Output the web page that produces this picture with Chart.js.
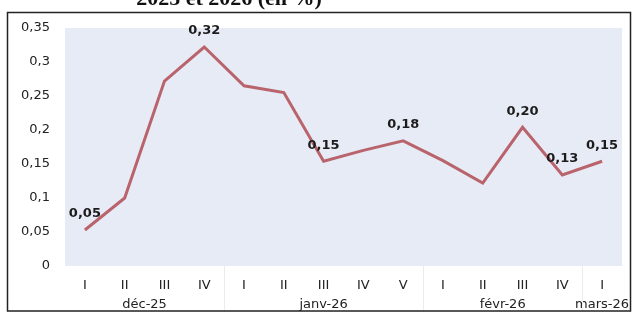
<!DOCTYPE html>
<html lang="fr">
<head>
    <meta charset="UTF-8">
    <title>Évolution hebdomadaire</title>
    <script src="https://cdn.jsdelivr.net/npm/chart.js"></script>
    <style>
        html, body {
            margin: 0;
            padding: 0;
            background: #ffffff;
        }
        #graphique {
            display: block;
        }
    </style>
</head>
<body>
    <canvas id="graphique" width="636" height="312"></canvas>

    <script>
        // Données
        const titre = '2025 et 2026 (en %)';
        const periodes = ['I', 'II', 'III', 'IV', 'I', 'II', 'III', 'IV', 'V', 'I', 'II', 'III', 'IV', 'I'];
        const mois = ['déc-25', 'janv-26', 'févr-26', 'mars-26'];
        const semainesParMois = [4, 5, 4, 1];
        const valeurs = [0.053, 0.10, 0.272, 0.322, 0.265, 0.255, 0.154, 0.170, 0.184, 0.155, 0.122, 0.204, 0.134, 0.154];
        const pointsEtiquetes = [0, 3, 6, 8, 11, 12, 13];
        const yTicks = [0, 0.05, 0.1, 0.15, 0.2, 0.25, 0.3, 0.35];

        function virgule(v, dec) {
            const s = dec === undefined ? String(+v.toFixed(2)) : v.toFixed(dec);
            return s.replace('.', ',');
        }

        // Fond de la zone de tracé, libellés, mois, cadre
        const decor = {
            id: 'decor',
            beforeDatasetsDraw(chart) {
                const a = chart.chartArea;
                const ctx = chart.ctx;
                ctx.save();
                ctx.fillStyle = '#e7ebf6';
                ctx.fillRect(a.left, a.top, a.right - a.left, a.bottom - a.top);
                ctx.restore();
            },
            afterDraw(chart) {
                const ctx = chart.ctx;
                const a = chart.chartArea;
                const x = chart.scales.x;
                const meta = chart.getDatasetMeta(0);

                ctx.save();
                // étiquettes de valeurs
                ctx.font = 'bold 13px "DejaVu Sans", sans-serif';
                ctx.fillStyle = '#1c1c1c';
                ctx.textAlign = 'center';
                ctx.textBaseline = 'middle';
                pointsEtiquetes.forEach(function (i) {
                    const p = meta.data[i];
                    ctx.fillText(virgule(valeurs[i], 2), p.x, p.y - 16);
                });

                // mois + séparateurs
                ctx.font = '13px "DejaVu Sans", sans-serif';
                let debut = 0;
                mois.forEach(function (m, k) {
                    const fin = debut + semainesParMois[k] - 1;
                    const cx = (x.getPixelForValue(debut) + x.getPixelForValue(fin)) / 2;
                    ctx.fillStyle = '#222222';
                    ctx.fillText(m, cx, a.bottom + 39);
                    if (k > 0) {
                        const sx = Math.round((x.getPixelForValue(debut - 1) + x.getPixelForValue(debut)) / 2) + 0.5;
                        ctx.strokeStyle = '#ececec';
                        ctx.lineWidth = 1;
                        ctx.beginPath();
                        ctx.moveTo(sx, a.bottom);
                        ctx.lineTo(sx, chart.height);
                        ctx.stroke();
                    }
                    debut = fin + 1;
                });

                // titre coupé en haut
                ctx.font = 'bold 22px "Liberation Serif", serif';
                ctx.fillStyle = '#111111';
                ctx.textBaseline = 'alphabetic';
                ctx.fillText(titre, 229, 5);

                // cadre
                ctx.strokeStyle = '#222222';
                ctx.lineWidth = 1.5;
                ctx.strokeRect(7.5, 12.5, 623, 298.5);
                ctx.restore();
            }
        };

        const ctx = document.getElementById('graphique').getContext('2d');
        const graphique = new Chart(ctx, {
            type: 'line',
            data: {
                labels: periodes,
                datasets: [{
                    data: valeurs,
                    borderColor: '#b9646c',
                    borderWidth: 3,
                    pointRadius: 0,
                    tension: 0,
                    fill: false
                }]
            },
            options: {
                responsive: false,
                animation: false,
                devicePixelRatio: 1,
                layout: {
                    padding: { top: 28, right: 14, left: 0, bottom: 0 }
                },
                plugins: {
                    legend: { display: false },
                    tooltip: { enabled: false }
                },
                scales: {
                    x: {
                        offset: true,
                        grid: { display: false, drawTicks: false },
                        border: { display: false },
                        ticks: {
                            autoSkip: false,
                            maxRotation: 0,
                            padding: 12,
                            color: '#222222',
                            font: { family: 'DejaVu Sans', size: 13 }
                        },
                        afterFit(scale) {
                            scale.height = 46;
                        }
                    },
                    y: {
                        min: 0,
                        max: 0.35,
                        afterBuildTicks(scale) {
                            scale.ticks = yTicks.map(function (v) { return { value: v }; });
                        },
                        grid: { display: false, drawTicks: false },
                        border: { display: false },
                        ticks: {
                            padding: 15,
                            color: '#222222',
                            font: { family: 'DejaVu Sans', size: 13 },
                            callback: function (v) { return virgule(v); }
                        },
                        afterFit(scale) {
                            scale.width = 65;
                        }
                    }
                }
            },
            plugins: [decor]
        });
    </script>
</body>
</html>
